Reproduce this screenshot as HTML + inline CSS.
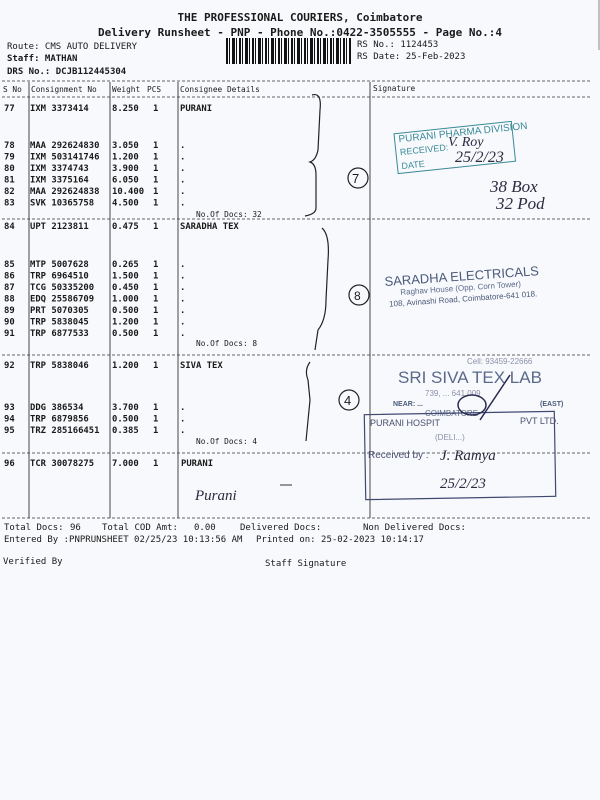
<!DOCTYPE html>
<html><head><meta charset="utf-8"><style>
html,body{margin:0;padding:0;background:#f8f9fc;}
svg{display:block}
text{font-family:"DejaVu Sans Mono","Liberation Mono",monospace;fill:#1a1a1a;}
.t{font-size:8.9px;font-weight:bold}
.h{font-size:7.8px}
text.s{font-family:"Liberation Sans",sans-serif}
text.hw{font-family:"Liberation Serif",serif;fill:#2a2a40;font-style:italic}
</style></head><body>
<div style="position:relative;width:600px;height:800px;overflow:hidden;background:#f8f9fc">
<div style="position:absolute;left:226px;top:38px;width:125px;height:26px;background:repeating-linear-gradient(90deg,#111 0 2px,#f8f9fc 2px 3px,#111 3px 4px,#f8f9fc 4px 6px,#111 6px 9px,#f8f9fc 9px 10px,#111 10px 11px,#f8f9fc 11px 13px)"></div>
<svg width="600" height="800" viewBox="0 0 600 800" style="position:absolute;left:0;top:0">
<line x1="599" y1="0" x2="599" y2="50" stroke="#888" stroke-width="1"/>
<text x="300" y="21" text-anchor="middle" font-size="11" font-weight="bold">THE PROFESSIONAL COURIERS, Coimbatore</text>
<text x="300" y="36" text-anchor="middle" font-size="11" font-weight="bold">Delivery Runsheet - PNP - Phone No.:0422-3505555 - Page No.:4</text>
<text x="7" y="49" font-size="9">Route: CMS AUTO DELIVERY</text>
<text x="7" y="61" font-size="9" font-weight="bold">Staff: MATHAN</text>
<text x="7" y="74" font-size="9" font-weight="bold">DRS No.: DCJB112445304</text>
<text x="357" y="47" font-size="9">RS No.: 1124453</text>
<text x="357" y="59" font-size="9">RS Date: 25-Feb-2023</text>
<g stroke="#333" stroke-width="0.8" stroke-dasharray="3,2">
<line x1="2" y1="81" x2="590" y2="81"/>
<line x1="2" y1="97" x2="590" y2="97"/>
<line x1="2" y1="219" x2="590" y2="219"/>
<line x1="2" y1="355" x2="590" y2="355"/>
<line x1="2" y1="453" x2="590" y2="453"/>
<line x1="2" y1="518" x2="590" y2="518"/>
</g>
<g stroke="#333" stroke-width="0.9">
<line x1="29" y1="82" x2="29" y2="518"/>
<line x1="110" y1="82" x2="110" y2="518"/>
<line x1="178" y1="82" x2="178" y2="518"/>
<line x1="370" y1="82" x2="370" y2="518"/>
</g>
<g class="h">
<text x="3" y="92">S No</text><text x="31" y="92">Consignment No</text><text x="112" y="92">Weight</text><text x="147" y="92">PCS</text><text x="180" y="92">Consignee Details</text><text x="373" y="91">Signature</text>
</g>
<g class="t">
<text x="4" y="111">77</text><text x="30" y="111">IXM 3373414</text><text x="112" y="111">8.250</text><text x="153" y="111">1</text><text x="180" y="111">PURANI</text>
<text x="4" y="148">78</text><text x="30" y="148">MAA 292624830</text><text x="112" y="148">3.050</text><text x="153" y="148">1</text><text x="180" y="148">.</text>
<text x="4" y="159.5">79</text><text x="30" y="159.5">IXM 503141746</text><text x="112" y="159.5">1.200</text><text x="153" y="159.5">1</text><text x="180" y="159.5">.</text>
<text x="4" y="171">80</text><text x="30" y="171">IXM 3374743</text><text x="112" y="171">3.900</text><text x="153" y="171">1</text><text x="180" y="171">.</text>
<text x="4" y="182.5">81</text><text x="30" y="182.5">IXM 3375164</text><text x="112" y="182.5">6.050</text><text x="153" y="182.5">1</text><text x="180" y="182.5">.</text>
<text x="4" y="194">82</text><text x="30" y="194">MAA 292624838</text><text x="112" y="194">10.400</text><text x="153" y="194">1</text><text x="180" y="194">.</text>
<text x="4" y="205.5">83</text><text x="30" y="205.5">SVK 10365758</text><text x="112" y="205.5">4.500</text><text x="153" y="205.5">1</text><text x="180" y="205.5">.</text>
<text x="4" y="229">84</text><text x="30" y="229">UPT 2123811</text><text x="112" y="229">0.475</text><text x="153" y="229">1</text><text x="180" y="229">SARADHA TEX</text>
<text x="4" y="267">85</text><text x="30" y="267">MTP 5007628</text><text x="112" y="267">0.265</text><text x="153" y="267">1</text><text x="180" y="267">.</text>
<text x="4" y="278.5">86</text><text x="30" y="278.5">TRP 6964510</text><text x="112" y="278.5">1.500</text><text x="153" y="278.5">1</text><text x="180" y="278.5">.</text>
<text x="4" y="290">87</text><text x="30" y="290">TCG 50335200</text><text x="112" y="290">0.450</text><text x="153" y="290">1</text><text x="180" y="290">.</text>
<text x="4" y="301.5">88</text><text x="30" y="301.5">EDQ 25586709</text><text x="112" y="301.5">1.000</text><text x="153" y="301.5">1</text><text x="180" y="301.5">.</text>
<text x="4" y="313">89</text><text x="30" y="313">PRT 5070305</text><text x="112" y="313">0.500</text><text x="153" y="313">1</text><text x="180" y="313">.</text>
<text x="4" y="324.5">90</text><text x="30" y="324.5">TRP 5838045</text><text x="112" y="324.5">1.200</text><text x="153" y="324.5">1</text><text x="180" y="324.5">.</text>
<text x="4" y="336">91</text><text x="30" y="336">TRP 6877533</text><text x="112" y="336">0.500</text><text x="153" y="336">1</text><text x="180" y="336">.</text>
<text x="4" y="368">92</text><text x="30" y="368">TRP 5838046</text><text x="112" y="368">1.200</text><text x="153" y="368">1</text><text x="180" y="368">SIVA TEX</text>
<text x="4" y="410">93</text><text x="30" y="410">DDG 386534</text><text x="112" y="410">3.700</text><text x="153" y="410">1</text><text x="180" y="410">.</text>
<text x="4" y="421.5">94</text><text x="30" y="421.5">TRP 6879856</text><text x="112" y="421.5">0.500</text><text x="153" y="421.5">1</text><text x="180" y="421.5">.</text>
<text x="4" y="433">95</text><text x="30" y="433">TRZ 285166451</text><text x="112" y="433">0.385</text><text x="153" y="433">1</text><text x="180" y="433">.</text>
<text x="4" y="466">96</text><text x="30" y="466">TCR 30078275</text><text x="112" y="466">7.000</text><text x="153" y="466">1</text><text x="181" y="466">PURANI</text>
</g>
<g class="h">
<text x="196" y="217">No.Of Docs: 32</text>
<text x="196" y="346">No.Of Docs: 8</text>
<text x="196" y="444">No.Of Docs: 4</text>
</g>
<g font-size="9">
<text x="4" y="530">Total Docs:</text><text x="70" y="530">96</text>
<text x="102" y="530">Total COD Amt:</text><text x="194" y="530">0.00</text>
<text x="240" y="530">Delivered Docs:</text><text x="363" y="530">Non Delivered Docs:</text>
<text x="4" y="542">Entered By :PNPRUNSHEET 02/25/23 10:13:56 AM</text>
<text x="256" y="542">Printed on: 25-02-2023 10:14:17</text>
<text x="3" y="564">Verified By</text>
<text x="265" y="566">Staff Signature</text>
</g>
<g fill="none" stroke="#222" stroke-width="1.2">
<path d="M312 95 Q322 92 320 110 L318 150 Q316 160 310 162 Q316 164 316 175 L316 208 Q316 214 305 216"/>
<circle cx="358" cy="178" r="10"/>
<path d="M322 228 Q330 235 328 260 L326 300 Q326 320 318 330 L315 350"/>
<circle cx="359" cy="295" r="10"/>
<path d="M310 362 Q304 370 308 380 L310 400 Q308 420 306 441"/>
<circle cx="349" cy="400" r="10"/>
</g>
<text x="352" y="183" class="s" font-size="13">7</text>
<text x="354" y="300" class="s" font-size="12">8</text>
<text x="344" y="405" class="s" font-size="13">4</text>
<g transform="rotate(-6 450 150)">
<rect x="396" y="128" width="118" height="40" fill="none" stroke="#3a8a98" stroke-width="1"/>
<text x="400" y="137" class="s" font-size="10" style="fill:#3a8a98">PURANI PHARMA DIVISION</text>
<text x="400" y="150" class="s" font-size="9" style="fill:#3a8a98">RECEIVED:</text>
<text x="400" y="164" class="s" font-size="9" style="fill:#3a8a98">DATE</text>
</g>
<text x="448" y="146" class="hw" font-size="14">V. Roy</text>
<text x="455" y="162" class="hw" font-size="16">25/2/23</text>
<text x="490" y="192" class="hw" font-size="17">38 Box</text>
<text x="496" y="209" class="hw" font-size="17">32 Pod</text>
<g transform="rotate(-4 470 285)">
<text x="385" y="280" class="s" font-size="13" style="fill:#4a5a7a">SARADHA ELECTRICALS</text>
<text x="400" y="290" class="s" font-size="8" style="fill:#5a6a8a">Raghav House (Opp. Corn Tower)</text>
<text x="388" y="301" class="s" font-size="8" style="fill:#4a5a7a">108, Avinashi Road, Coimbatore-641 018.</text>
</g>
<text x="467" y="364" class="s" font-size="8" style="fill:#8a90a8">Cell: 93459-22666</text>
<text x="398" y="383" class="s" font-size="17" style="fill:#5a6a8a">SRI SIVA TEX LAB</text>
<text x="425" y="396" class="s" font-size="8" style="fill:#8a90a8">739, ... 641 009</text>
<text x="393" y="406" class="s" font-size="7" font-weight="bold" style="fill:#4a5a7a">NEAR: ...</text>
<text x="540" y="406" class="s" font-size="7" font-weight="bold" style="fill:#4a5a7a">(EAST)</text>
<text x="425" y="416" class="s" font-size="8" style="fill:#5a6a8a">COIMBATORE</text>
<rect x="365" y="413" width="190" height="85" fill="none" stroke="#404a70" stroke-width="1.2" transform="rotate(-1 460 455)"/>
<text x="370" y="426" class="s" font-size="9" style="fill:#4a5070">PURANI HOSPIT</text>
<text x="520" y="424" class="s" font-size="9" style="fill:#4a5070">PVT LTD.</text>
<text x="435" y="440" class="s" font-size="8" style="fill:#8a90a8">(DELI...)</text>
<text x="368" y="458" class="s" font-size="10" style="fill:#4a5070">Received by :</text>
<text x="440" y="460" class="hw" font-size="15">J. Ramya</text>
<text x="440" y="488" class="hw" font-size="15">25/2/23</text>
<g fill="none" stroke="#2a2a50" stroke-width="1.5">
<ellipse cx="472" cy="405" rx="14" ry="10"/>
<path d="M480 420 L510 375"/>
</g>
<text x="195" y="500" class="hw" font-size="15">Purani</text>
<line x1="280" y1="485" x2="292" y2="485" stroke="#333"/>
</svg>
</div>
</body></html>
